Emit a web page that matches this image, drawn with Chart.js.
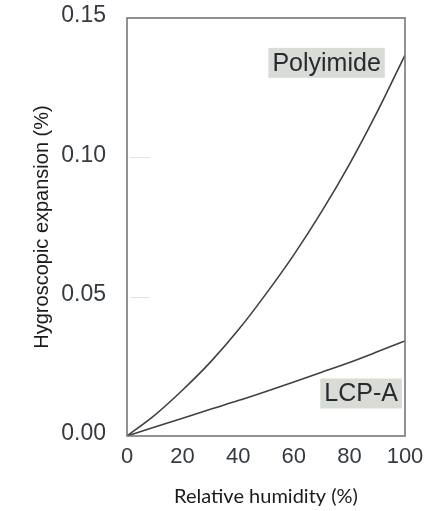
<!DOCTYPE html>
<html>
<head>
<meta charset="utf-8">
<script src="https://cdn.jsdelivr.net/npm/chart.js@4.4.0/dist/chart.umd.min.js"></script>
<style>
  html, body { margin: 0; padding: 0; background: #ffffff; }
  #wrap { width: 424px; height: 511px; position: relative; }
</style>
</head>
<body>
<div id="wrap"><canvas id="c" width="424" height="511"></canvas></div>
<script>
// Relative humidity (%) sample points
const humidity = [0, 10, 20, 30, 40, 50, 60, 70, 80, 90, 100];
// Hygroscopic expansion (%)
const polyimide = [0, 0.0075, 0.0165, 0.0265, 0.0380, 0.0510, 0.0650, 0.0805, 0.0975, 0.1163, 0.1367];
const lcpA = [0, 0.0032, 0.0064, 0.0096, 0.0127, 0.0160, 0.0194, 0.0229, 0.0264, 0.0302, 0.0341];
const xTicks = [0, 20, 40, 60, 80, 100];
const yTicks = [0, 0.05, 0.10, 0.15];
const minorMarks = [0.05, 0.10];
// Curve labels: [text, x (RH), y (expansion)] at label centre
const curveLabels = [
  ["Polyimide", 71.8, 0.1339],
  ["LCP-A", 84.2, 0.01525]
];

const toPts = (ys) => humidity.map((x, i) => ({ x: x, y: ys[i] }));

const framePlugin = {
  id: 'frame',
  beforeDatasetsDraw(chart) {
    const { ctx, chartArea: a, scales } = chart;
    ctx.save();
    ctx.strokeStyle = '#e3e3e3';
    ctx.lineWidth = 1;
    minorMarks.forEach(v => {
      const y = Math.round(scales.y.getPixelForValue(v)) + 0.5;
      ctx.beginPath();
      ctx.moveTo(a.left + 3, y);
      ctx.lineTo(a.left + 23, y);
      ctx.stroke();
    });
    ctx.restore();
  },
  afterDatasetsDraw(chart) {
    const { ctx, chartArea: a, scales } = chart;
    ctx.save();
    ctx.strokeStyle = '#767676';
    ctx.lineWidth = 1.6;
    ctx.strokeRect(a.left, a.top, a.right - a.left, a.bottom - a.top);
    ctx.font = '25px "Liberation Sans", Arial, sans-serif';
    ctx.textAlign = 'center';
    ctx.textBaseline = 'middle';
    curveLabels.forEach(([t, xv, yv]) => {
      const cx = scales.x.getPixelForValue(xv);
      const cy = scales.y.getPixelForValue(yv);
      const w = ctx.measureText(t).width + 8;
      const h = 30;
      ctx.fillStyle = '#d9dcd6';
      ctx.fillRect(cx - w / 2, cy - h / 2, w, h);
      ctx.fillStyle = '#262b30';
      ctx.fillText(t, cx, cy + 1);
    });
    ctx.restore();
  }
};

new Chart(document.getElementById('c'), {
  type: 'line',
  data: {
    datasets: [
      { label: 'Polyimide', data: toPts(polyimide), borderColor: '#404040', borderWidth: 1.6,
        pointRadius: 0, fill: false, cubicInterpolationMode: 'monotone' },
      { label: 'LCP-A', data: toPts(lcpA), borderColor: '#404040', borderWidth: 1.6,
        pointRadius: 0, fill: false, cubicInterpolationMode: 'monotone' }
    ]
  },
  options: {
    responsive: false,
    animation: false,
    devicePixelRatio: 1,
    layout: { padding: { left: 18, right: 19, top: 18, bottom: 0 } },
    plugins: { legend: { display: false }, tooltip: { enabled: false } },
    scales: {
      x: {
        type: 'linear', min: 0, max: 100,
        grid: { display: false, drawTicks: false },
        border: { display: false },
        afterBuildTicks: (s) => { s.ticks = xTicks.map(v => ({ value: v })); },
        afterFit: (s) => { s.height = 75; s.paddingLeft = 0; s.paddingRight = 0; },
        ticks: { padding: 8, color: '#343a40', maxRotation: 0, autoSkip: false,
          font: { family: '"Liberation Sans", Arial, sans-serif', size: 22 } },
        title: { display: true, text: 'Relative humidity (%)', color: '#1a1a1a',
          padding: { top: 0, bottom: 2 },
          font: { family: 'Lato, "Liberation Sans", sans-serif', size: 20 } }
      },
      y: {
        type: 'linear', min: 0, max: 0.15,
        grid: { display: false, drawTicks: false },
        border: { display: false },
        afterBuildTicks: (s) => { s.ticks = yTicks.map(v => ({ value: v })); },
        afterFit: (s) => { s.width = 109; s.paddingTop = 0; s.paddingBottom = 0; },
        ticks: { padding: 21, labelOffset: -2, color: '#343a40', autoSkip: false,
          callback: (v) => Number(v).toFixed(2),
          font: { family: '"Liberation Sans", Arial, sans-serif', size: 23 } },
        title: { display: true, text: 'Hygroscopic expansion (%)', color: '#1a1a1a',
          padding: { top: 12, bottom: 0 },
          font: { family: '"Liberation Sans", Arial, sans-serif', size: 20 } }
      }
    }
  },
  plugins: [framePlugin]
});
</script>
</body>
</html>
